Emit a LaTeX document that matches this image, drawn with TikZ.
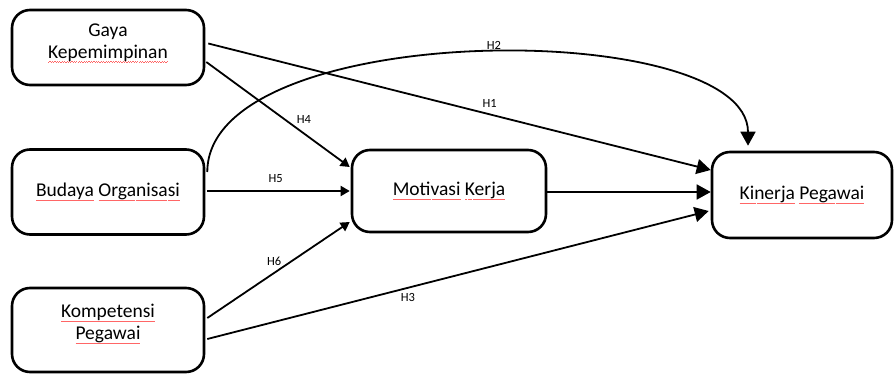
\documentclass[tikz,border=0pt]{standalone}
\usepackage{fontspec}
\setmainfont{Carlito}
\usetikzlibrary{arrows.meta,calc}
\newsavebox\wordbox
\newcommand{\spell}[1]{\sbox\wordbox{#1}\makebox[0pt][l]{\color{red!60}\hbox to\wd\wordbox{\xleaders\hbox{\rule[-3.9pt]{1.2pt}{0.45pt}\rule[-3.3pt]{1.2pt}{0.45pt}}\hfill}}\usebox\wordbox}

\begin{document}
\begin{tikzpicture}[x=1pt, y=-1pt,
    box/.style={draw, line width=2.6pt, rounded corners=18pt, align=center, font=\fontsize{19.5}{22}\selectfont},
    link/.style={line width=1.8pt, -{Triangle[length=9pt,width=10pt]}},
    bigtip/.style={-{Triangle[length=14pt,width=15pt]}},
    hlabel/.style={inner sep=2pt, font=\fontsize{12.5}{14}\selectfont}]
    \useasboundingbox (0,0) rectangle (894,374);

    \node[box, minimum width=192pt, minimum height=75pt, text depth=13pt] (gaya) at (108,47.5) {Gaya\\\spell{Kepemimpinan}};
    \node[box, minimum width=192pt, minimum height=85pt] (budaya) at (108,192) {\spell{Budaya} \spell{Organisasi}};
    \node[box, minimum width=192pt, minimum height=84pt, text depth=16pt] (kompetensi) at (108,330) {\spell{Kompetensi}\\\spell{Pegawai}};
    \node[box, minimum width=194pt, minimum height=82pt] (motivasi) at (449,191) {\spell{Motivasi} \spell{Kerja}};
    \node[box, minimum width=180pt, minimum height=86pt] (kinerja) at (802,195) {\spell{Kinerja} \spell{Pegawai}};

    \draw[link, bigtip] ($(gaya.east)+(3,-4)$) -- node[hlabel, pos=0.56, above=4pt] {H1} ($(kinerja.west)+(0,-25)$);
    \draw[link, bigtip] ($(budaya.east)+(2,-20)$) .. controls +(0,-154) and +(0,-129) .. node[hlabel, pos=0.52, above] {H2} ($(kinerja.north)+(-54,-5)$);
    \draw[link, bigtip] ($(kompetensi.east)+(2,9)$) -- node[hlabel, pos=0.4, below=3pt] {H3} ($(kinerja.west)+(-2,16)$);
    \draw[link] ($(gaya.east)+(1,14.5)$) -- node[hlabel, pos=0.68, above=7pt] {H4} ($(motivasi.west)+(-1,-24)$);
    \draw[link] ($(budaya.east)+(2,-1)$) -- node[hlabel, pos=0.48, above=6pt] {H5} ($(motivasi.west)+(-1,0)$);
    \draw[link] ($(kompetensi.east)+(2,-12)$) -- node[hlabel, pos=0.47, above=4pt] {H6} ($(motivasi.west)+(-1,31)$);
    \draw[link, bigtip] ($(motivasi.east)+(0,1)$) -- ($(kinerja.west)+(0,-3)$);
\end{tikzpicture}
\end{document}
